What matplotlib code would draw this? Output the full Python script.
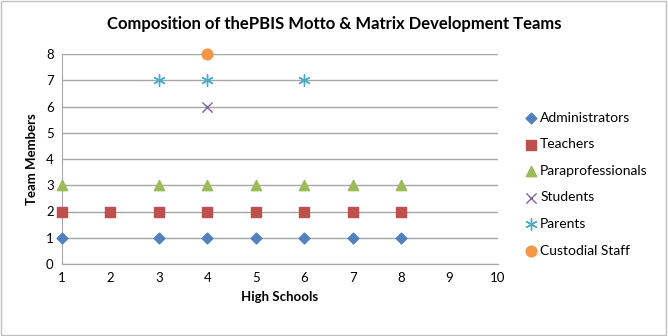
import matplotlib.pyplot as plt
from matplotlib.patches import Rectangle

plt.rcParams['font.family'] = ['Lato', 'DejaVu Sans']

admin_x = [1, 3, 4, 5, 6, 7, 8]
admin_y = [1, 1, 1, 1, 1, 1, 1]
teachers_x = [1, 2, 3, 4, 5, 6, 7, 8]
teachers_y = [2, 2, 2, 2, 2, 2, 2, 2]
para_x = [1, 3, 4, 5, 6, 7, 8]
para_y = [3, 3, 3, 3, 3, 3, 3]
students_x = [4]
students_y = [6]
parents_x = [3, 4, 6]
parents_y = [7, 7, 7]
custodial_x = [4]
custodial_y = [8]

fig = plt.figure(figsize=(6.68, 3.36), dpi=100)
ax = fig.add_axes([62 / 668, 72 / 336, 436 / 668, 210 / 336])

ax.scatter(admin_x, admin_y, marker='D', s=30, color='#4F81BD', label='Administrators', zorder=3, clip_on=False)
ax.scatter(teachers_x, teachers_y, marker='s', s=60, color='#C0504D', label='Teachers', zorder=3, clip_on=False)
ax.scatter(para_x, para_y, marker='^', s=55, color='#9BBB59', label='Paraprofessionals', zorder=3, clip_on=False)
ax.scatter(students_x, students_y, marker='x', s=55, color='#8064A2', linewidths=1.0, label='Students', zorder=3, clip_on=False)
ax.scatter(parents_x, parents_y, marker=(6, 2, 0), s=70, color='#4BACC6', linewidths=1.0, label='Parents', zorder=3, clip_on=False)
ax.scatter(custodial_x, custodial_y, marker='o', s=60, color='#F79646', label='Custodial Staff', zorder=3, clip_on=False)

ax.set_xlim(1, 10)
ax.set_ylim(0, 8)
ax.set_xticks(range(1, 11))
ax.set_yticks(range(0, 9))
ax.tick_params(length=0, labelsize=9.5, pad=6)
ax.grid(axis='y', color='#A6A6A6', linewidth=1)
ax.set_axisbelow(True)
for side in ['top', 'right']:
    ax.spines[side].set_visible(False)
for side in ['left', 'bottom']:
    ax.spines[side].set_color('#A6A6A6')

ax.set_xlabel('High Schools', fontsize=9.5, fontweight='bold', labelpad=5)
ax.set_ylabel('Team Members', fontsize=9.5, fontweight='bold', labelpad=6)
fig.text(0.5, 0.915, 'Composition of thePBIS Motto & Matrix Development Teams',
         ha='center', fontsize=12, fontweight='bold')

ax.legend(loc='center left', bbox_to_anchor=(1.028, 0.38), frameon=False,
          fontsize=10, handletextpad=0.05, labelspacing=1.05, handlelength=1.2,
          scatterpoints=1)

fig.patches.append(Rectangle((0.002, 0.003), 0.995, 0.993, transform=fig.transFigure,
                             fill=False, edgecolor='#BFBFBF', linewidth=1))

fig.savefig('out.png', dpi=100)
